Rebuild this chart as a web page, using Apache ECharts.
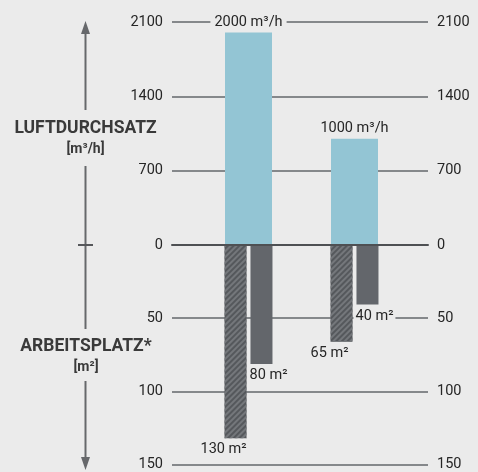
<!DOCTYPE html>
<html>
<head>
<meta charset="utf-8">
<script src="https://cdn.jsdelivr.net/npm/echarts@6/dist/echarts.min.js"></script>
<style>
html,body{margin:0;padding:0;background:#ebebeb;}
#c{width:478px;height:472px;}
</style>
</head>
<body>
<div id="c"></div>
<script>
const categories = ['Gerät A', 'Gerät B'];
const airflow = [2000, 1000];
const areaHatched = [130, 65];
const areaSolid = [80, 40];
const airflowAxis = { min: 0, max: 2100, interval: 700 };
const areaAxis = { min: 0, max: 150, interval: 50 };
const titleTop = ['LUFTDURCHSATZ', '[m³/h]'];
const titleBottom = ['ARBEITSPLATZ*', '[m²]'];

const FONT = 'Roboto';
const BG = '#ebebeb';
const TXT = '#262626';
const GRID_LINE = { show: true, lineStyle: { color: '#85888b', width: 2 } };
const chart = echarts.init(document.getElementById('c'));

function tickLabel(extra) {
  return Object.assign({ show: true, margin: 9, color: TXT, fontFamily: FONT, fontSize: 14.5,
    formatter: function (v) { return String(v); } }, extra || {});
}
function valAxis(grid, pos, cfg, opts) {
  return Object.assign({
    type: 'value', gridIndex: grid, position: pos,
    min: cfg.min, max: cfg.max, interval: cfg.interval,
    axisLine: { show: false }, axisTick: { show: false },
    axisLabel: tickLabel(),
    splitLine: { show: false }
  }, opts || {});
}
function catAxis(grid, opts) {
  return Object.assign({
    type: 'category', gridIndex: grid, data: categories, show: false
  }, opts || {});
}
const labelBase = {
  show: true, color: TXT, fontFamily: FONT, fontSize: 14.5
};

const option = {
  backgroundColor: BG,
  animation: false,
  grid: [
    { left: 172, right: 50, top: 22, height: 223 },
    { left: 172, right: 50, top: 245, height: 223 },
    { left: 195.5, right: 70.5, top: 22, height: 223 },
    { left: 195.5, right: 70.5, top: 245, height: 223 }
  ],
  xAxis: [
    catAxis(0, { show: true, position: 'bottom', z: 10,
      axisLine: { show: true, lineStyle: { color: '#4e5053', width: 2 } },
      axisTick: { show: false }, axisLabel: { show: false }, splitLine: { show: false } }),
    catAxis(1),
    catAxis(2),
    catAxis(3)
  ],
  yAxis: [
    valAxis(0, 'left', airflowAxis, { splitLine: GRID_LINE }),
    valAxis(0, 'right', airflowAxis),
    valAxis(1, 'left', areaAxis, { inverse: true, splitLine: GRID_LINE,
      axisLabel: tickLabel({ showMinLabel: false }) }),
    valAxis(1, 'right', areaAxis, { inverse: true,
      axisLabel: tickLabel({ showMinLabel: false }) }),
    valAxis(2, 'left', airflowAxis, { show: false }),
    valAxis(3, 'left', areaAxis, { show: false, inverse: true })
  ],
  series: [
    {
      type: 'bar', xAxisIndex: 2, yAxisIndex: 4, data: airflow, barWidth: 47,
      itemStyle: { color: '#93c5d4' },
      label: Object.assign({}, labelBase, { position: 'top', distance: 2, formatter: '{c} m³/h',
        backgroundColor: BG, padding: [1, 4] })
    },
    {
      type: 'bar', xAxisIndex: 3, yAxisIndex: 5, data: areaHatched, barWidth: 22, barGap: '18%',
      itemStyle: { color: '#55585c',
        decal: { symbol: 'rect', symbolSize: 1, dashArrayX: [1, 0], dashArrayY: [1.5, 2],
                 rotation: -Math.PI / 4, color: '#74777b' } },
      label: Object.assign({}, labelBase, { position: 'bottom', distance: 4, offset: [-12, 0], formatter: '{c} m²' })
    },
    {
      type: 'bar', xAxisIndex: 3, yAxisIndex: 5, data: areaSolid, barWidth: 22, barGap: '18%',
      itemStyle: { color: '#63666b' },
      label: Object.assign({}, labelBase, { position: 'bottom', distance: 3, offset: [7, 0], formatter: '{c} m²',
        backgroundColor: BG, padding: [1, 2] })
    }
  ],
  graphic: [
    { type: 'line', shape: { x1: 85.5, y1: 32, x2: 85.5, y2: 110 }, style: { stroke: '#66686b', lineWidth: 2 } },
    { type: 'polygon', shape: { points: [[85.5, 21], [81, 34], [90, 34]] }, style: { fill: '#66686b' } },
    { type: 'line', shape: { x1: 85.5, y1: 166, x2: 85.5, y2: 329 }, style: { stroke: '#66686b', lineWidth: 2 } },
    { type: 'line', shape: { x1: 78, y1: 245, x2: 93, y2: 245 }, style: { stroke: '#55575a', lineWidth: 2 } },
    { type: 'line', shape: { x1: 85.5, y1: 381, x2: 85.5, y2: 460 }, style: { stroke: '#66686b', lineWidth: 2 } },
    { type: 'polygon', shape: { points: [[85.5, 470], [81, 457], [90, 457]] }, style: { fill: '#66686b' } },
    { type: 'text', x: 85.5, y: 129, style: { text: titleTop[0], font: 'bold 17.5px Roboto', fill: '#3a3a3a', align: 'center', verticalAlign: 'middle' } },
    { type: 'text', x: 85.5, y: 149, style: { text: titleTop[1], font: 'bold 14px Roboto', fill: '#3a3a3a', align: 'center', verticalAlign: 'middle' } },
    { type: 'text', x: 86, y: 347, style: { text: titleBottom[0], font: 'bold 17.5px Roboto', fill: '#3a3a3a', align: 'center', verticalAlign: 'middle' } },
    { type: 'text', x: 86, y: 367, style: { text: titleBottom[1], font: 'bold 14px Roboto', fill: '#3a3a3a', align: 'center', verticalAlign: 'middle' } }
  ]
};
chart.setOption(option);
</script>
</body>
</html>
